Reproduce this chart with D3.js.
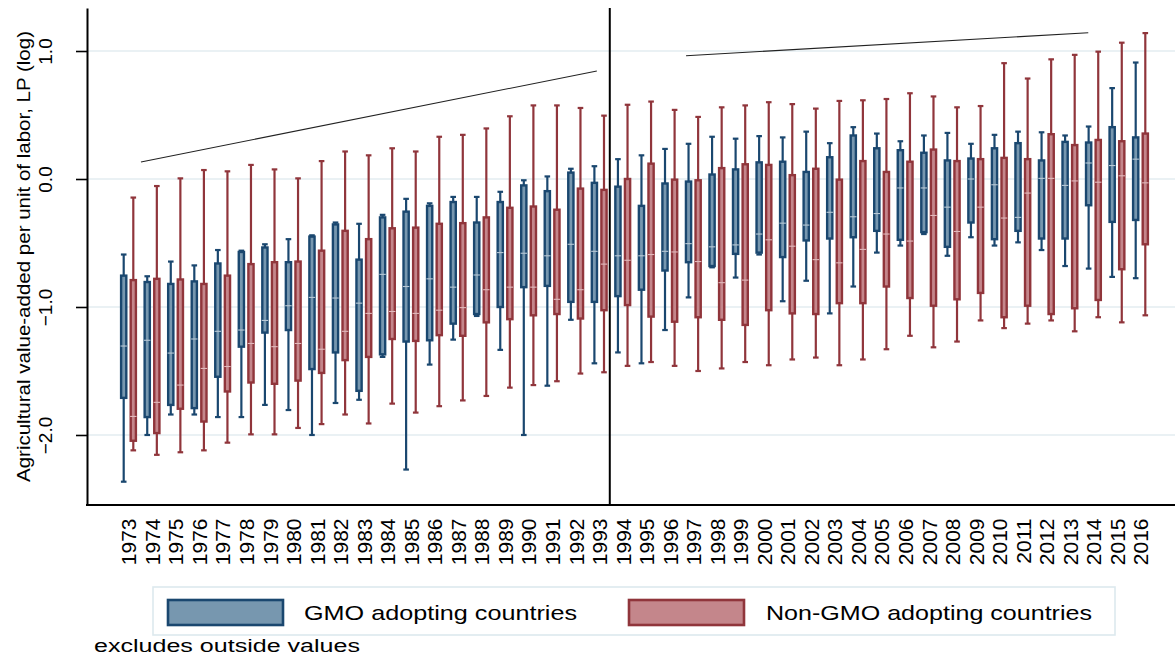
<!DOCTYPE html>
<html>
<head>
<meta charset="utf-8">
<script src="https://cdn.jsdelivr.net/npm/d3@7"></script>
<style>
  body { margin: 0; background: #fff; }
  text { font-family: "Liberation Sans", Arial, Helvetica, sans-serif; fill: #000; }
</style>
</head>
<body>
<svg id="chart" width="1175" height="658"></svg>
<script>
// Years on the category axis
const years = [1973, 1974, 1975, 1976, 1977, 1978, 1979, 1980, 1981, 1982, 1983,
  1984, 1985, 1986, 1987, 1988, 1989, 1990, 1991, 1992, 1993, 1994, 1995, 1996,
  1997, 1998, 1999, 2000, 2001, 2002, 2003, 2004, 2005, 2006, 2007, 2008, 2009,
  2010, 2011, 2012, 2013, 2014, 2015, 2016];

// GMO adopting countries: box-plot summaries (log labour productivity)
const gmoHigh = [-0.59, -0.76, -0.645, -0.675, -0.555, -0.56, -0.51, -0.47, -0.44, -0.34, -0.35,
  -0.28, -0.155, -0.19, -0.14, -0.14, -0.10, -0.01, 0.02, 0.08, 0.10, 0.155, 0.185, 0.235,
  0.275, 0.33, 0.315, 0.335, 0.325, 0.37, 0.28, 0.405, 0.355, 0.295, 0.34, 0.36, 0.275,
  0.345, 0.37, 0.365, 0.34, 0.41, 0.71, 0.91];
const gmoQ3 = [-0.755, -0.805, -0.82, -0.80, -0.66, -0.57, -0.535, -0.65, -0.45, -0.355, -0.63,
  -0.30, -0.255, -0.21, -0.18, -0.34, -0.18, -0.05, -0.095, 0.05, -0.03, -0.06, -0.21, -0.035,
  -0.02, 0.035, 0.075, 0.13, 0.135, 0.055, 0.17, 0.34, 0.24, 0.225, 0.205, 0.145, 0.16,
  0.24, 0.28, 0.145, 0.29, 0.285, 0.405, 0.325];
const gmoMedian = [-1.305, -1.26, -1.36, -1.25, -1.19, -1.18, -1.105, -0.99, -0.925, -0.93, -0.97,
  -0.745, -0.84, -0.78, -0.845, -0.75, -0.575, -0.58, -0.60, -0.51, -0.565, -0.60, -0.60, -0.565,
  -0.505, -0.53, -0.515, -0.43, -0.345, -0.36, -0.26, -0.295, -0.27, -0.07, -0.07, -0.22, 0.0,
  -0.045, -0.30, 0.005, -0.05, 0.125, 0.105, 0.155];
const gmoQ1 = [-1.71, -1.86, -1.765, -1.79, -1.545, -1.31, -1.20, -1.18, -1.485, -1.355, -1.655,
  -1.37, -1.27, -1.26, -1.13, -1.055, -1.00, -0.845, -0.835, -0.96, -0.96, -0.915, -0.865, -0.715,
  -0.65, -0.68, -0.585, -0.575, -0.61, -0.48, -0.465, -0.455, -0.405, -0.475, -0.415, -0.53, -0.34,
  -0.47, -0.405, -0.465, -0.465, -0.205, -0.335, -0.32];
const gmoLow = [-2.365, -2.00, -1.84, -1.84, -1.86, -1.86, -1.765, -1.805, -2.00, -1.75, -1.725,
  -1.39, -2.27, -1.45, -1.255, -1.07, -1.335, -2.00, -1.615, -1.10, -1.44, -1.355, -1.44, -1.18,
  -0.925, -0.69, -0.77, -0.59, -0.955, -0.795, -1.05, -0.84, -0.575, -0.52, -0.43, -0.60, -0.455,
  -0.52, -0.495, -0.555, -0.68, -0.70, -0.765, -0.775];

// Non-GMO adopting countries
const nonHigh = [-0.145, -0.055, 0.005, 0.07, 0.06, 0.11, 0.075, 0.005, 0.14, 0.215, 0.185,
  0.24, 0.215, 0.33, 0.345, 0.395, 0.49, 0.575, 0.575, 0.555, 0.495, 0.58, 0.605, 0.54,
  0.485, 0.56, 0.575, 0.60, 0.585, 0.55, 0.61, 0.615, 0.625, 0.67, 0.645, 0.56, 0.57,
  0.905, 0.785, 0.935, 0.97, 0.995, 1.065, 1.14];
const nonQ3 = [-0.79, -0.78, -0.785, -0.82, -0.755, -0.665, -0.65, -0.645, -0.56, -0.405, -0.47,
  -0.385, -0.38, -0.35, -0.345, -0.30, -0.225, -0.215, -0.24, -0.075, -0.085, 0.0, 0.12, -0.005,
  -0.01, 0.085, 0.115, 0.11, 0.03, 0.08, -0.005, 0.14, 0.055, 0.135, 0.23, 0.14, 0.155,
  0.165, 0.155, 0.35, 0.265, 0.305, 0.295, 0.355];
const nonMedian = [-1.855, -1.745, -1.61, -1.48, -1.465, -1.285, -1.31, -1.285, -1.33, -1.19, -1.05,
  -1.035, -1.05, -1.025, -1.005, -0.865, -0.845, -0.845, -0.94, -0.865, -0.665, -0.635, -0.59, -0.57,
  -0.645, -0.81, -0.79, -0.475, -0.525, -0.63, -0.655, -0.55, -0.43, -0.485, -0.285, -0.41, -0.22,
  -0.305, -0.11, 0.005, -0.015, -0.025, 0.025, -0.03];
const nonQ1 = [-2.045, -1.985, -1.795, -1.895, -1.66, -1.59, -1.60, -1.575, -1.515, -1.415, -1.39,
  -1.25, -1.265, -1.22, -1.225, -1.12, -1.095, -1.065, -1.055, -1.09, -1.025, -0.985, -1.075, -1.115,
  -1.08, -1.10, -1.14, -1.025, -1.05, -1.055, -0.97, -0.97, -0.84, -0.93, -0.99, -0.94, -0.89,
  -1.08, -0.99, -1.055, -1.01, -0.945, -0.705, -0.51];
const nonLow = [-2.12, -2.155, -2.135, -2.12, -2.06, -1.995, -1.995, -1.945, -1.915, -1.84, -1.91,
  -1.755, -1.825, -1.775, -1.73, -1.695, -1.63, -1.61, -1.58, -1.52, -1.51, -1.46, -1.43, -1.46,
  -1.50, -1.48, -1.43, -1.455, -1.41, -1.395, -1.455, -1.41, -1.33, -1.225, -1.315, -1.27, -1.105,
  -1.165, -1.13, -1.105, -1.19, -1.08, -1.12, -1.065];

// Axis ticks, trend segments and the period break
const yTicks = [-2, -1, 0, 1];
const trendBefore = [[1973.53, 0.133], [1992.9, 0.844]];
const trendAfter = [[1996.69, 0.963], [2013.78, 1.143]];
const breakYear = 1993.45;

const seriesNames = ["GMO adopting countries", "Non-GMO adopting countries"];
const strokeColors = ["#1a476f", "#90353b"];
const fillColors = ["#7797af", "#c4868b"];
const medianColors = ["#b9c9d6", "#e2b9bc"];

const W = 1175, H = 658;
const plot = { left: 87, right: 1175, top: 8, bottom: 505 };

const svg = d3.select("#chart");
svg.append("rect").attr("width", W).attr("height", H).attr("fill", "#fff");

const x = d3.scaleLinear().domain([1973, 2016]).range([128.5, 1140.5]);
const y = d3.scaleLinear().domain([-2.547, 1.336]).range([plot.bottom, plot.top]);

// Horizontal grid
svg.append("g").selectAll("line").data(yTicks).join("line")
  .attr("x1", plot.left).attr("x2", plot.right)
  .attr("y1", d => y(d)).attr("y2", d => y(d))
  .attr("stroke", "#e3edf0").attr("stroke-width", 1.6);

// Trend segments
const line = d3.line().x(d => x(d[0])).y(d => y(d[1]));
svg.append("g").selectAll("path").data([trendBefore, trendAfter]).join("path")
  .attr("d", line).attr("fill", "none")
  .attr("stroke", "#222").attr("stroke-width", 1.1);

// Period break
svg.append("line")
  .attr("x1", x(breakYear)).attr("x2", x(breakYear))
  .attr("y1", plot.top).attr("y2", plot.bottom)
  .attr("stroke", "#000").attr("stroke-width", 2);

// Box plots
const rows = [];
years.forEach((yr, i) => {
  rows.push({ year: yr, s: 0, high: gmoHigh[i], q3: gmoQ3[i], med: gmoMedian[i], q1: gmoQ1[i], low: gmoLow[i] });
  rows.push({ year: yr, s: 1, high: nonHigh[i], q3: nonQ3[i], med: nonMedian[i], q1: nonQ1[i], low: nonLow[i] });
});
const offset = [-4.8, 4.8];
const boxW = 5.2, capW = 5.6;
const cx = d => x(d.year) + offset[d.s];

const boxes = svg.append("g").selectAll("g").data(rows).join("g");
// whiskers
boxes.append("line")
  .attr("x1", cx).attr("x2", cx)
  .attr("y1", d => y(d.high)).attr("y2", d => y(d.low))
  .attr("stroke", d => strokeColors[d.s]).attr("stroke-width", 2.2);
// caps
["high", "low"].forEach(k => {
  boxes.append("line")
    .attr("x1", d => cx(d) - capW / 2).attr("x2", d => cx(d) + capW / 2)
    .attr("y1", d => y(d[k])).attr("y2", d => y(d[k]))
    .attr("stroke", d => strokeColors[d.s]).attr("stroke-width", 2.2);
});
// interquartile box
boxes.append("rect")
  .attr("x", d => cx(d) - boxW / 2).attr("width", boxW)
  .attr("y", d => y(d.q3)).attr("height", d => y(d.q1) - y(d.q3))
  .attr("fill", d => fillColors[d.s])
  .attr("stroke", d => strokeColors[d.s]).attr("stroke-width", 2.4);
// median
boxes.append("line")
  .attr("x1", d => cx(d) - boxW / 2 - 0.6).attr("x2", d => cx(d) + boxW / 2 + 0.6)
  .attr("y1", d => y(d.med)).attr("y2", d => y(d.med))
  .attr("stroke", d => medianColors[d.s]).attr("stroke-width", 1.1);

// X axis
const xAxis = svg.append("g").attr("transform", `translate(0,${plot.bottom})`)
  .call(d3.axisBottom(x).tickValues(years).tickFormat(d3.format("d")).tickSize(0).tickSizeOuter(0));
xAxis.select(".domain").remove();
xAxis.selectAll(".tick text")
  .attr("transform", "rotate(-90)")
  .attr("x", -13.5).attr("y", 0).attr("dy", "0.35em")
  .attr("text-anchor", "end")
  .style("font-size", "21px")
  .style("font-family", "'Liberation Sans', Arial, sans-serif");
svg.append("line")
  .attr("x1", plot.left - 1).attr("x2", plot.right)
  .attr("y1", plot.bottom).attr("y2", plot.bottom)
  .attr("stroke", "#000").attr("stroke-width", 2);

// Y axis
const yAxis = svg.append("g").attr("transform", `translate(${plot.left},0)`)
  .call(d3.axisLeft(y).tickValues(yTicks).tickFormat(d3.format(".1f")).tickSize(11).tickSizeOuter(0));
yAxis.select(".domain").attr("stroke-width", 2);
yAxis.selectAll(".tick line").attr("stroke-width", 1.6);
yAxis.selectAll(".tick text")
  .attr("transform", "rotate(-90)")
  .attr("x", 0).attr("y", -35).attr("dy", 0)
  .attr("text-anchor", "middle")
  .style("font-size", "19px")
  .style("font-family", "'Liberation Sans', Arial, sans-serif");

// Y axis title
svg.append("text")
  .attr("transform", `translate(29.5,${(plot.top + plot.bottom) / 2}) rotate(-90)`)
  .attr("text-anchor", "middle")
  .attr("textLength", 451).attr("lengthAdjust", "spacingAndGlyphs")
  .style("font-size", "17.5px")
  .text("Agricultural value-added per unit of labor, LP (log)");

// Legend
const legend = svg.append("g");
legend.append("rect")
  .attr("x", 153).attr("y", 587).attr("width", 962).attr("height", 48)
  .attr("fill", "#fff").attr("stroke", "#dde9ee").attr("stroke-width", 1.6);
const legendItems = [
  { sx: 168, tx: 304, tw: 273 },
  { sx: 629, tx: 766, tw: 326 }
];
legendItems.forEach((it, i) => {
  legend.append("rect")
    .attr("x", it.sx).attr("y", 600).attr("width", 115).attr("height", 25)
    .attr("fill", fillColors[i]).attr("stroke", strokeColors[i]).attr("stroke-width", 2.6);
  legend.append("text")
    .attr("x", it.tx).attr("y", 620)
    .attr("textLength", it.tw).attr("lengthAdjust", "spacingAndGlyphs")
    .style("font-size", "21px")
    .text(seriesNames[i]);
});

// Note
svg.append("text")
  .attr("x", 94).attr("y", 652)
  .attr("textLength", 266).attr("lengthAdjust", "spacingAndGlyphs")
  .style("font-size", "17.5px")
  .text("excludes outside values");
</script>
</body>
</html>
